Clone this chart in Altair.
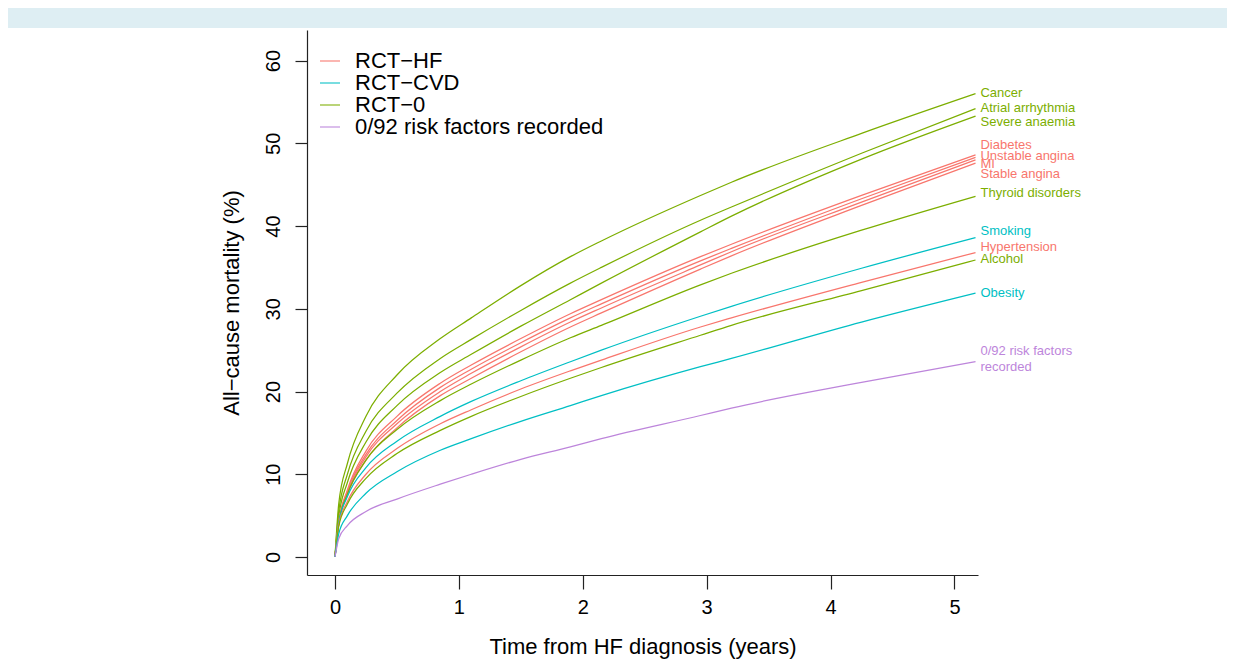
import altair as alt
import pandas as pd

# ---- data ----
T = [0, 0.03, 0.1, 0.25, 0.5, 0.85, 1.1, 1.5, 1.9, 2.15, 2.95, 3.2, 4.25, 5.17]

groups = ["RCT\u2212HF", "RCT\u2212CVD", "RCT\u22120", "0/92 risk factors recorded"]
colors = ["#F8766D", "#00BFC4", "#7CAE00", "#BD85DB"]

cancer = [0, 6.4, 11.3, 17.0, 22.0, 26.4, 28.9, 32.8, 36.3, 38.2, 43.7, 45.3, 51.2, 56.0]
atrial = [0, 5.5, 10.0, 15.2, 19.8, 24.0, 26.3, 29.8, 33.1, 35.0, 40.7, 42.3, 48.8, 54.2]
severe = [0, 4.8, 9.0, 13.9, 18.3, 22.3, 24.5, 27.9, 31.1, 33.1, 39.3, 41.2, 48.1, 53.3]
diabetes = [0, 4.2, 8.1, 12.8, 17.0, 21.0, 23.2, 26.4, 29.4, 31.1, 36.3, 37.8, 43.7, 48.6]
unstable = [0, 4.1, 7.9, 12.4, 16.5, 20.5, 22.7, 25.9, 28.9, 30.6, 35.8, 37.3, 43.3, 48.3]
mi = [0, 4.0, 7.7, 12.1, 16.1, 20.0, 22.2, 25.4, 28.4, 30.1, 35.3, 36.9, 42.9, 48.0]
stable = [0, 3.9, 7.5, 11.7, 15.6, 19.5, 21.6, 24.8, 27.8, 29.5, 34.8, 36.4, 42.5, 47.6]
thyroid = [0, 4.1, 7.6, 11.7, 15.4, 18.9, 20.9, 23.8, 26.5, 28.0, 32.9, 34.3, 39.5, 43.6]
smoking = [0, 4.1, 7.3, 10.8, 14.0, 17.0, 18.8, 21.3, 23.6, 25.0, 29.1, 30.3, 34.9, 38.6]
hypertension = [0, 3.9, 6.7, 10.0, 13.1, 16.1, 17.8, 20.3, 22.5, 23.8, 27.8, 28.9, 33.2, 36.8]
alcohol = [0, 3.7, 6.4, 9.5, 12.5, 15.3, 17.0, 19.4, 21.6, 22.9, 26.8, 28.0, 32.2, 35.9]
obesity = [0, 2.8, 5.0, 7.7, 10.3, 12.9, 14.3, 16.4, 18.3, 19.5, 23.0, 24.0, 28.4, 31.9]
none92 = [0, 2.2, 3.8, 5.5, 7.0, 8.8, 10.0, 11.8, 13.3, 14.3, 17.1, 18.0, 21.1, 23.6]

series = [
    ("Cancer", groups[2], cancer),
    ("Atrial arrhythmia", groups[2], atrial),
    ("Severe anaemia", groups[2], severe),
    ("Diabetes", groups[0], diabetes),
    ("Unstable angina", groups[0], unstable),
    ("MI", groups[0], mi),
    ("Stable angina", groups[0], stable),
    ("Thyroid disorders", groups[2], thyroid),
    ("Smoking", groups[1], smoking),
    ("Hypertension", groups[0], hypertension),
    ("Alcohol", groups[2], alcohol),
    ("Obesity", groups[1], obesity),
    ("0/92", groups[3], none92),
]

label_text = ["Cancer", "Atrial arrhythmia", "Severe anaemia", "Diabetes",
              "Unstable angina", "MI", "Stable angina", "Thyroid disorders",
              "Smoking", "Hypertension", "Alcohol", "Obesity",
              "0/92 risk factors", "recorded"]
label_y = [56.1, 54.3, 52.6, 49.8, 48.5, 47.5, 46.3, 44.0, 39.4, 37.5, 36.0, 31.9, 24.9, 23.0]
label_group = [groups[2], groups[2], groups[2], groups[0], groups[0], groups[0], groups[0],
               groups[2], groups[1], groups[0], groups[2], groups[1], groups[3], groups[3]]
label_t = 5.21

x_ticks = [0, 1, 2, 3, 4, 5]
y_ticks = [0, 10, 20, 30, 40, 50, 60]

rows = []
for name, grp, vals in series:
    for t, v in zip(T, vals):
        rows.append({"series": name, "group": grp, "t": t, "y": v})
df = pd.DataFrame(rows)
lab = pd.DataFrame({"label": label_text, "y": label_y, "group": label_group,
                    "t": [label_t] * len(label_text)})

FONT = "Liberation Sans"
xscale = alt.Scale(domain=[-0.226, 5.19], nice=False, zero=False)
yscale = alt.Scale(domain=[-2.18, 63.7], nice=False, zero=False)
cscale = alt.Scale(domain=groups, range=colors)

lines = alt.Chart(df).mark_line(strokeWidth=1.25, interpolate="monotone", clip=False).encode(
    x=alt.X("t:Q", scale=xscale,
            axis=alt.Axis(values=x_ticks, title="Time from HF diagnosis (years)",
                          tickSize=14, labelPadding=8, titlePadding=19, grid=False,
                          labelFontSize=20, titleFontSize=22, format="d")),
    y=alt.Y("y:Q", scale=yscale,
            axis=alt.Axis(values=y_ticks, title="All\u2212cause mortality (%)",
                          tickSize=12, labelAngle=-90, labelAlign="center",
                          labelBaseline="bottom", labelPadding=12, titlePadding=20,
                          grid=False, labelFontSize=20, titleFontSize=22, format="d")),
    color=alt.Color("group:N", scale=cscale,
                    legend=alt.Legend(orient="none", legendX=12, legendY=20, title=None,
                                      symbolType="stroke", symbolSize=400,
                                      symbolStrokeWidth=1.5, symbolOpacity=0.7,
                                      labelFontSize=22, labelFont=FONT, labelOffset=14,
                                      rowPadding=0, labelLimit=500, labelColor="#000")),
    detail="series:N",
)

labels = alt.Chart(lab).mark_text(align="left", baseline="middle", fontSize=13,
                                  font=FONT, clip=False).encode(
    x="t:Q",
    y="y:Q",
    text="label:N",
    color=alt.Color("group:N", scale=cscale, legend=None),
)

band = alt.Chart(pd.DataFrame({"a": [0]})).mark_rect(color="#deeef3", clip=False).encode(
    x=alt.value(-299), x2=alt.value(920), y=alt.value(-22), y2=alt.value(-2))

chart = alt.layer(band, lines, labels).resolve_scale(color="independent").properties(
    width=671, height=545,
    autosize=alt.AutoSizeParams(type="none"),
    padding={"left": 299, "top": 22, "right": 249, "bottom": 90},
    background="white",
).configure_view(stroke=None).configure_axis(
    labelFont=FONT, titleFont=FONT, labelColor="#000", titleColor="#000",
    domainColor="#222", tickColor="#222", titleFontWeight="normal",
    domainWidth=1.2, tickWidth=1.2,
)

chart.save("out.html", embed_options={"renderer": "svg", "actions": False})
